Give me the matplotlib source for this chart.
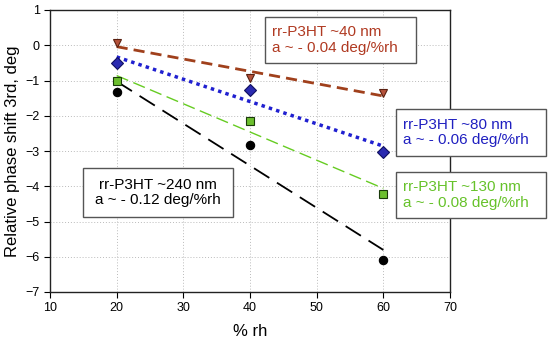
import numpy as np
import matplotlib
matplotlib.use("Agg")
import matplotlib.pyplot as plt

rh = [20, 40, 60]
y40 = [0.05, -0.92, -1.35]
y80 = [-0.50, -1.26, -3.03]
y130 = [-1.02, -2.14, -4.22]
y240 = [-1.32, -2.83, -6.10]
err = [0.06, 0.06, 0.06]

xticks = [10, 20, 30, 40, 50, 60, 70]
yticks = [-7, -6, -5, -4, -3, -2, -1, 0, 1]

labels = [
    ("rr-P3HT ~40 nm\na ~ - 0.04 deg/%rh", "#b03a22"),
    ("rr-P3HT ~80 nm\na ~ - 0.06 deg/%rh", "#2020c0"),
    ("rr-P3HT ~130 nm\na ~ - 0.08 deg/%rh", "#66c22a"),
    ("rr-P3HT ~240 nm\na ~ - 0.12 deg/%rh", "#000000"),
]

plt.rcParams['font.family'] = ['Liberation Sans', 'DejaVu Sans']
fig = plt.figure(figsize=(5.5, 3.43), dpi=100)
ax = fig.add_axes([50/550, 1-292/343, 400/550, 282/343])

series = [
    (y40, "v", "#b5523b", "#5a2010", "#a0401c", (0, (4, 2.2)), 2.0),
    (y80, "D", "#2a2ab0", "#101060", "#2020d0", (0, (1, 1.2)), 2.5),
    (y130, "s", "#6cbf2e", "#1a3a0a", "#66cc22", (0, (9, 4)), 1.0),
    (y240, "o", "#000000", "#000000", "#000000", (0, (10, 5)), 1.3),
]
x = np.array(rh, dtype=float)
for ys, mk, fc, ec, lc, ls, lw in series:
    ys = np.array(ys)
    p = np.polyfit(x, ys, 1)
    ax.plot(x, np.polyval(p, x), color=lc, linestyle=ls, linewidth=lw, zorder=2)
    ax.errorbar(x, ys, yerr=err, fmt=mk, ms=6, mfc=fc, mec=ec, mew=0.8,
                ecolor="#666666", elinewidth=0.5, capsize=0, zorder=3)

ax.set_xlim(10, 70)
ax.set_ylim(-7, 1)
ax.set_xticks(xticks)
ax.set_yticks(yticks)
ax.tick_params(direction='out', length=4, labelsize=9, width=0.8)
ax.grid(True, linestyle=(0, (1, 2)), color="#bbbbbb", linewidth=0.7)
ax.set_axisbelow(True)
for s in ax.spines.values():
    s.set_linewidth(1.0)
    s.set_color("#222222")
ax.set_xlabel("% rh", fontsize=12, labelpad=7)
ax.set_ylabel("Relative phase shift 3rd, deg", fontsize=12, labelpad=4)

boxes = [(265, 17, 416, 63), (396, 109, 546, 156), (396, 172, 546, 218), (83, 168, 233, 217)]
aligns = ["left", "left", "left", "center"]
for (txt, col), (x0, y0, x1, y1), al in zip(labels, boxes, aligns):
    w = (x1 - x0) / 550
    h = (y1 - y0) / 343
    rect = plt.Rectangle((x0/550, 1 - y1/343), w, h, transform=fig.transFigure,
                         facecolor="white", edgecolor="#555555", linewidth=1.0, zorder=5)
    fig.add_artist(rect)
    if al == "left":
        tx = (x0 + 7) / 550
    else:
        tx = (x0 + x1) / 2 / 550
    fig.text(tx, 1 - (y0 + y1) / 2 / 343, txt, color=col,
             fontsize=11, ha=al, va="center", multialignment=al,
             linespacing=1.1, zorder=6)

fig.savefig("out.png", dpi=100)
